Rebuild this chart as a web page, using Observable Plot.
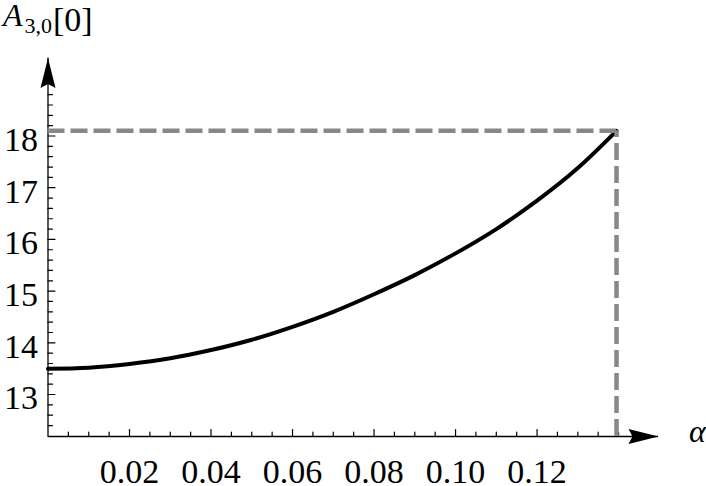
<!DOCTYPE html>
<html><head><meta charset="utf-8">
<script src="https://cdn.jsdelivr.net/npm/d3@7"></script>
<script src="https://cdn.jsdelivr.net/npm/@observablehq/plot@0.6"></script>
<style>html,body{margin:0;padding:0;background:#fff} svg{display:block}</style>
</head><body><div id="chart"></div>
<script>
// ---- data ----
const alphas = [0, 0.01, 0.02, 0.03, 0.04, 0.05, 0.06, 0.07, 0.08, 0.09, 0.10, 0.11, 0.12, 0.13, 0.1395];
const values = [13.50, 13.52, 13.59, 13.70, 13.86, 14.06, 14.31, 14.60, 14.94, 15.31, 15.73, 16.20, 16.75, 17.38, 18.10];
const xMajorTicks = [0.02, 0.04, 0.06, 0.08, 0.10, 0.12];
const xTickLabels = ["0.02", "0.04", "0.06", "0.08", "0.10", "0.12"];
const yMajorTicks = [13, 14, 15, 16, 17, 18];
const yTickLabels = ["13", "14", "15", "16", "17", "18"];
const xMinorStep = 0.005;
const yMinorStep = 0.2;
const xDomain = [0, 0.1498];
const yDomain = [12.188, 19.509];
const titleMain = "A", titleSub = "3,0", titleRest = "[0]";
const xLabel = "α";

// ---- build ----
const data = alphas.map((a, i) => ({a, v: values[i]}));
const last = data[data.length - 1];
const xMinor = d3.range(1, 29).map(i => +(i * xMinorStep).toFixed(4)).filter(v => !xMajorTicks.some(m => Math.abs(m - v) < 1e-9));
const yMinor = d3.range(62, 95).map(i => +(i * yMinorStep).toFixed(4)).filter(v => !yMajorTicks.some(m => Math.abs(m - v) < 1e-9) && v > yDomain[0] + 0.05 && v < 18.9);

const seg = {draw(ctx, l) { ctx.moveTo(0, 0); ctx.lineTo(0, -l); }};
const head = {draw(ctx) { ctx.moveTo(0, 0); ctx.lineTo(7.5, 30); ctx.lineTo(0, 26); ctx.lineTo(-7.5, 30); ctx.closePath(); }};
const font = "Liberation Serif";

const chart = Plot.plot({
  width: 706, height: 486,
  marginLeft: 47.5, marginRight: 48, marginTop: 57.5, marginBottom: 50,
  x: {domain: xDomain, axis: null},
  y: {domain: yDomain, axis: null},
  style: {background: "#fff"},
  marks: [
    // axes lines
    Plot.ruleX([xDomain[0]], {y1: yDomain[0], y2: yDomain[1], stroke: "black", strokeWidth: 1.3}),
    Plot.ruleY([yDomain[0]], {x1: xDomain[0], x2: xDomain[1], stroke: "black", strokeWidth: 1.3}),
    // ticks
    Plot.vector(yMajorTicks, {x: xDomain[0], y: d => d, rotate: 90, length: 7, anchor: "start", shape: seg, stroke: "black", strokeWidth: 1.2}),
    Plot.vector(yMinor, {x: xDomain[0], y: d => d, rotate: 90, length: 4.5, anchor: "start", shape: seg, stroke: "black", strokeWidth: 1.2}),
    Plot.vector(xMajorTicks, {x: d => d, y: yDomain[0], rotate: 0, length: 7, anchor: "start", shape: seg, stroke: "black", strokeWidth: 1.2}),
    Plot.vector(xMinor, {x: d => d, y: yDomain[0], rotate: 0, length: 4.5, anchor: "start", shape: seg, stroke: "black", strokeWidth: 1.2}),
    // arrow heads
    Plot.dot([0], {x: xDomain[0], y: yDomain[1], symbol: head, fill: "black", stroke: "none", r: 1}),
    Plot.dot([0], {x: xDomain[1], y: yDomain[0], symbol: head, fill: "black", stroke: "none", r: 1, rotate: 90}),
    // tick labels
    Plot.text(xMajorTicks, {x: d => d, text: (d, i) => xTickLabels[i], frameAnchor: "bottom", lineAnchor: "top", dy: 22, fontSize: 34, fontFamily: font, fill: "black"}),
    Plot.text(yMajorTicks, {y: d => d, text: (d, i) => yTickLabels[i], frameAnchor: "left", textAnchor: "end", dx: -10, dy: 4, fontSize: 34, fontFamily: font, fill: "black"}),
    // curve
    Plot.line(data, {x: "a", y: "v", curve: "natural", stroke: "black", strokeWidth: 4}),
    // dashed guides
    Plot.ruleY([last.v], {x1: xDomain[0], x2: last.a, stroke: "#888", strokeWidth: 4.5, strokeDasharray: "17,6"}),
    Plot.ruleX([last.a], {y1: yDomain[0], y2: last.v, stroke: "#888", strokeWidth: 4.5, strokeDasharray: "17,6"})
  ]
});
document.getElementById("chart").appendChild(chart);

// title and x label as real text
const svg = d3.select(chart);
const t = svg.append("text").attr("x", 3).attr("y", 26).attr("text-anchor", "start")
  .attr("font-family", font).attr("fill", "black");
t.append("tspan").attr("font-style", "italic").attr("font-size", 32).text(titleMain);
t.append("tspan").attr("font-size", 22).attr("dy", 7).attr("dx", 2).text(titleSub);
t.append("tspan").attr("font-size", 34).attr("dy", -2).attr("dx", 1).text(titleRest);
svg.append("text").attr("x", 689).attr("y", 442).attr("text-anchor", "start")
  .attr("font-family", font).attr("font-style", "italic").attr("font-size", 32).attr("fill", "black").text(xLabel);
</script>
</body></html>
